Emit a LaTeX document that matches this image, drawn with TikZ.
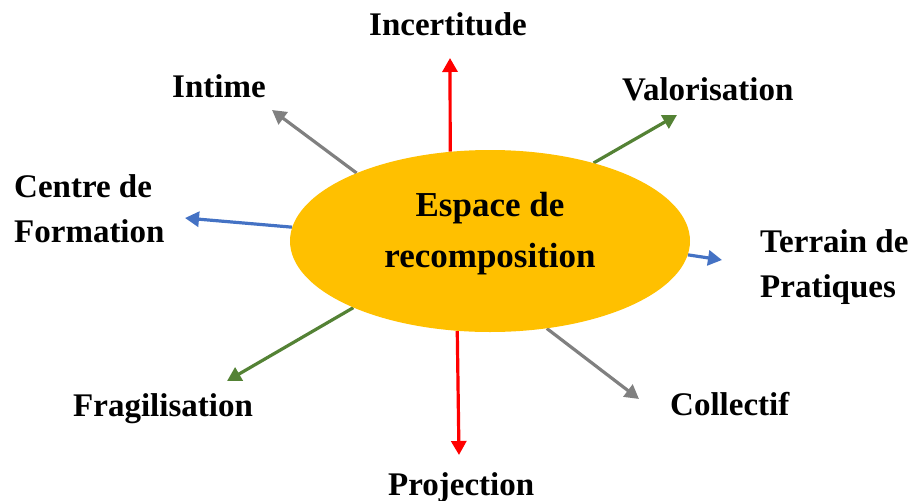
\documentclass[tikz,border=0pt]{standalone}
\usepackage{fontspec}
\setmainfont{Liberation Serif}
\usetikzlibrary{arrows.meta, shapes.geometric, backgrounds}
\definecolor{esgold}{HTML}{FFC000}
\definecolor{esred}{HTML}{FF0000}
\definecolor{esgreen}{HTML}{548235}
\definecolor{esblue}{HTML}{4472C4}
\definecolor{esgray}{HTML}{808080}

\begin{document}
\begin{tikzpicture}[x=1pt, y=-1pt,
    pole/.style={font=\fontsize{33}{45}\selectfont\bfseries, align=left, inner sep=0pt, anchor=base west},
    arrow/.style={-{Triangle[length=14pt, width=15pt]}, color=#1, line width=3.2pt}
]
\useasboundingbox (0,0) rectangle (914,501);

% Centre
\node[ellipse, fill=esgold, minimum width=400pt, minimum height=182pt, inner sep=0pt] (espace) at (490,241) {};
\node[font=\fontsize{35}{51}\selectfont\bfseries, align=center, inner sep=0pt, anchor=base] (titre) at (490,267) {Espace de\\recomposition};

% Poles (base = last line)
\node[pole] (incertitude) at (369,35) {Incertitude};
\node[pole] (valorisation) at (622,100) {Valorisation};
\node[pole] (intime) at (172,97) {Intime};
\node[pole] (centre) at (14,242) {Centre de\\Formation};
\node[pole] (terrain) at (760,297) {Terrain de\\Pratiques};
\node[pole] (collectif) at (670,415) {Collectif};
\node[pole] (fragilisation) at (73,416) {Fragilisation};
\node[pole] (projection) at (388,495) {Projection};

% Arrow tips
\coordinate (tinc) at (450,58);
\coordinate (tval) at (677,115);
\coordinate (tint) at (272,110);
\coordinate (tcen) at (185,218);
\coordinate (tter) at (722,260);
\coordinate (tcol) at (639,399);
\coordinate (tfra) at (227,381);
\coordinate (tpro) at (459,455);

% Connections
\begin{scope}[on background layer]
\foreach \a/\t/\c in {114/tinc/esred, 37/tval/esgreen, 153/tint/esgray, 176/tcen/esblue,
                      356/tter/esblue, 303/tcol/esgray, 206/tfra/esgreen, 250/tpro/esred} {
    \draw[arrow=\c] (espace.\a) -- (\t);
}
\end{scope}

\end{tikzpicture}
\end{document}
